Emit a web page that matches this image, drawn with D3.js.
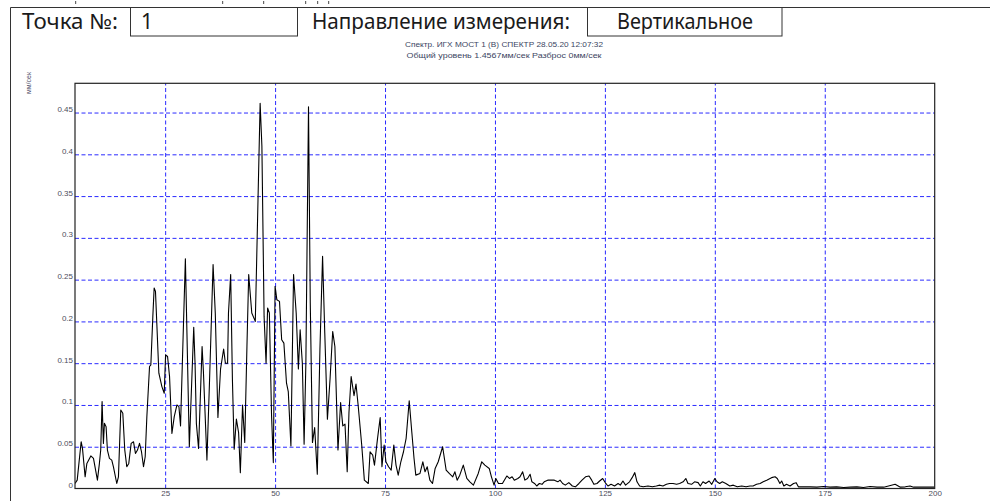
<!DOCTYPE html>
<html>
<head>
<meta charset="utf-8">
<script src="https://cdn.jsdelivr.net/npm/d3@7"></script>
<style>
  body { margin: 0; background: #fff; }
  svg { display: block; }
</style>
</head>
<body>
<div id="main"></div>
<script>
// header fields
var headerLabels = ["Точка №:", "Направление измерения:"];
var headerValues = ["1", "Вертикальное"];
var titleLines = [
  "Спектр. ИГХ МОСТ 1 (В) СПЕКТР 28.05.20 12:07:32",
  "Общий уровень 1.4567мм/сек Разброс 0мм/сек"
];
var unitLabel = "мм/сек";

var xTicks = [25, 50, 75, 100, 125, 150, 175, 200];
var yTicks = [0, 0.05, 0.1, 0.15, 0.2, 0.25, 0.3, 0.35, 0.4, 0.45];

// spectrum (Hz / mm/s)
var freqs = [
  4.5, 5.0, 5.9, 6.2, 6.8, 7.2, 8.1, 8.7, 9.6, 10.05, 10.35, 10.66, 10.96, 11.19, 11.57, 11.87,
  12.33, 12.86, 13.24, 14.0, 14.38, 14.91, 15.37, 15.82, 16.28, 16.73, 17.27, 17.8, 18.25, 18.71,
  19.17, 19.62, 20.08, 20.46, 20.84, 21.45, 21.75, 22.2, 22.5, 22.8, 23.1, 23.57, 24.26, 24.79,
  25.1, 25.55, 26.0, 26.54, 27.07, 27.68, 28.13, 28.5, 29.6, 30.5, 31.5, 31.8, 32.1, 32.6, 33.4,
  33.7, 34.5, 35.1, 35.9, 36.4, 37.0, 37.6, 38.3, 38.7, 39.2, 39.4, 39.9, 40.3, 40.7, 41.2, 41.7,
  42.1, 42.6, 43.1, 43.6, 44.0, 44.7, 45.5, 45.8, 46.6, 47.0, 47.5, 47.95, 48.3, 48.7, 49.2, 49.6,
  50.0, 50.4, 51.0, 51.5, 52.0, 52.6, 53.0, 53.6, 54.2, 54.8, 55.3, 55.7, 56.2, 56.6, 57.0, 57.6,
  58.0, 58.5, 59.0, 59.6, 60.2, 60.8, 61.3, 61.9, 62.5, 63.1, 63.6, 64.3, 64.9, 65.4, 65.9, 66.4,
  66.8, 67.3, 67.95, 68.4, 68.9, 69.7, 70.3, 71.2, 71.6, 72.2, 72.6, 73.3, 73.9, 74.3, 74.8, 75.2,
  75.8, 76.4, 77.0, 77.5, 78.0, 78.6, 79.2, 79.8, 80.5, 81.1, 81.6, 82.0, 82.95, 83.6, 84.1, 84.6,
  85.2, 85.8, 86.4, 87.1, 88.1, 88.9, 89.6, 90.4, 90.9, 91.4, 92.0, 92.8, 93.6, 94.3, 95.1, 96.2,
  97.0, 97.7, 98.7, 99.2, 99.8, 100.2, 100.8, 101.7, 102.7, 103.3, 103.9, 104.4, 105.2, 105.7,
  106.3, 106.8, 107.4, 108.0, 108.4, 109.0, 109.5, 110.1, 110.7, 111.2, 112.0, 112.8, 113.5, 114.3,
  114.8, 115.4, 116.0, 116.8, 117.6, 118.3, 119.1, 119.8, 120.6, 121.4, 122.0, 122.5, 123.2, 123.8,
  124.5, 125.2, 125.7, 126.4, 127.2, 128.0, 128.5, 129.1, 129.7, 130.6, 131.2, 131.8, 132.3, 132.9,
  133.7, 134.8, 135.8, 136.7, 137.5, 138.2, 139.0, 139.7, 140.5, 141.3, 142.0, 142.8, 143.4, 143.9,
  144.7, 145.4, 146.2, 146.7, 147.3, 147.9, 148.7, 149.3, 150.0, 150.5, 151.1, 151.7, 152.5, 153.4,
  154.2, 155.1, 156.1, 157.1, 158.0, 158.7, 159.5, 160.3, 161.0, 161.8, 162.9, 163.7, 164.2, 164.8,
  165.2, 165.7, 166.3, 167.1, 167.9, 168.5, 169.0, 170.1, 171.7, 173.2, 174.7, 176.2, 177.7, 179.3,
  180.8, 182.3, 183.8, 185.3, 186.9, 188.4, 189.5, 191.0, 192.2, 193.3, 194.4, 195.2, 196.7, 198.2,
  200.0
];
var amps = [
  0.006, 0.010, 0.056, 0.048, 0.014, 0.030, 0.039, 0.036, 0.010, 0.030, 0.046, 0.104, 0.054, 0.078, 0.074, 0.046,
  0.036, 0.034, 0.026, 0.006, 0.014, 0.094, 0.090, 0.046, 0.026, 0.030, 0.054, 0.056, 0.042, 0.046,
  0.054, 0.044, 0.026, 0.038, 0.086, 0.146, 0.148, 0.206, 0.240, 0.236, 0.198, 0.138, 0.122, 0.114,
  0.160, 0.158, 0.134, 0.066, 0.086, 0.100, 0.098, 0.075, 0.275, 0.050, 0.193, 0.150, 0.078, 0.048, 0.170,
  0.140, 0.034, 0.130, 0.268, 0.210, 0.085, 0.143, 0.167, 0.150, 0.150, 0.210, 0.256, 0.130, 0.047, 0.083, 0.067,
  0.019, 0.100, 0.055, 0.170, 0.256, 0.210, 0.200, 0.270, 0.461, 0.410, 0.206, 0.150, 0.216, 0.210, 0.087, 0.031,
  0.242, 0.226, 0.224, 0.178, 0.174, 0.126, 0.116, 0.051, 0.256, 0.210, 0.143, 0.190, 0.150, 0.053, 0.150, 0.457,
  0.222, 0.055, 0.073, 0.017, 0.167, 0.278, 0.186, 0.083, 0.131, 0.188, 0.170, 0.046, 0.103, 0.075, 0.077, 0.020,
  0.091, 0.134, 0.111, 0.125, 0.099, 0.052, 0.010, 0.006, 0.044, 0.040, 0.028, 0.060, 0.085, 0.026, 0.052, 0.032,
  0.026, 0.022, 0.052, 0.028, 0.016, 0.032, 0.044, 0.060, 0.105, 0.067, 0.036, 0.016, 0.018, 0.032, 0.020, 0.026,
  0.010, 0.006, 0.024, 0.032, 0.050, 0.022, 0.018, 0.014, 0.020, 0.010, 0.016, 0.028, 0.012, 0.008, 0.004, 0.018,
  0.032, 0.028, 0.024, 0.014, 0.004, 0.012, 0.006, 0.006, 0.015, 0.012, 0.014, 0.010, 0.012, 0.014,
  0.020, 0.010, 0.012, 0.017, 0.008, 0.006, 0.003, 0.006, 0.005, 0.008, 0.010, 0.010, 0.010, 0.008,
  0.010, 0.006, 0.004, 0.007, 0.003, 0.002, 0.006, 0.010, 0.014, 0.015, 0.010, 0.005, 0.006, 0.009,
  0.012, 0.006, 0.003, 0.005, 0.003, 0.006, 0.004, 0.009, 0.004, 0.008, 0.013, 0.019, 0.008, 0.003,
  0.002, 0.003, 0.002, 0.003, 0.004, 0.003, 0.005, 0.006, 0.006, 0.005, 0.006, 0.008, 0.012, 0.006,
  0.005, 0.008, 0.007, 0.003, 0.008, 0.006, 0.009, 0.005, 0.012, 0.008, 0.006, 0.008, 0.006, 0.003,
  0.004, 0.002, 0.003, 0.002, 0.003, 0.003, 0.005, 0.006, 0.008, 0.010, 0.013, 0.014, 0.012, 0.006,
  0.009, 0.003, 0.005, 0.003, 0.006, 0.007, 0.002, 0.002, 0.002, 0.0016, 0.0024, 0.0016, 0.002, 0.0012,
  0.0016, 0.002, 0.0012, 0.0024, 0.0016, 0.0016, 0.003, 0.005, 0.0016, 0.002, 0.003, 0.0016, 0.0016, 0.0016,
  0.0016
];

var W = 990, H = 501;
var svg = d3.select("#main").append("svg")
    .attr("width", W)
    .attr("height", H);

// outer form frame (top + left edges)
svg.append("line").attr("x1", 10.5).attr("x2", W).attr("y1", 7.5).attr("y2", 7.5)
    .attr("stroke", "#333").attr("stroke-width", 1);
svg.append("line").attr("x1", 10.5).attr("x2", 10.5).attr("y1", 7.5).attr("y2", H)
    .attr("stroke", "#333").attr("stroke-width", 1);

// bits of cut-off text at the very top
[75, 222, 263, 305, 317, 328].forEach(function(px) {
  svg.append("rect").attr("x", px).attr("y", 1).attr("width", 1.2).attr("height", 3).attr("fill", "#666");
});

// header labels and value boxes
var hdrFont = "'Noto Sans', 'DejaVu Sans', sans-serif";
svg.append("text").attr("x", 22).attr("y", 28.5).text(headerLabels[0])
    .attr("font-family", hdrFont).attr("font-size", 21).attr("fill", "#1a1a1a")
    .attr("textLength", 96).attr("lengthAdjust", "spacingAndGlyphs");
svg.append("text").attr("x", 312).attr("y", 28.5).text(headerLabels[1])
    .attr("font-family", hdrFont).attr("font-size", 21).attr("fill", "#1a1a1a")
    .attr("textLength", 258).attr("lengthAdjust", "spacingAndGlyphs");

svg.append("rect").attr("x", 130.5).attr("y", 7.5).attr("width", 167).attr("height", 28.5)
    .attr("fill", "none").attr("stroke", "#333");
svg.append("rect").attr("x", 587.5).attr("y", 7.5).attr("width", 194.5).attr("height", 28.5)
    .attr("fill", "none").attr("stroke", "#333");

svg.append("text").attr("x", 141).attr("y", 28.5).text(headerValues[0])
    .attr("font-family", hdrFont).attr("font-size", 21).attr("fill", "#1a1a1a");
svg.append("text").attr("x", 617).attr("y", 28.5).text(headerValues[1])
    .attr("font-family", hdrFont).attr("font-size", 21).attr("fill", "#1a1a1a")
    .attr("textLength", 136).attr("lengthAdjust", "spacingAndGlyphs");

// chart title
var smallFont = "'Liberation Sans', Arial, sans-serif";
svg.selectAll(".title").data(titleLines).enter().append("text")
    .attr("class", "title")
    .attr("x", 504)
    .attr("y", function(d, i) { return 47 + i * 10.5; })
    .attr("text-anchor", "middle")
    .attr("font-family", smallFont).attr("font-size", 7.5)
    .attr("fill", "#3c4663")
    .attr("textLength", function(d, i) { return i === 0 ? 198 : 195; })
    .attr("lengthAdjust", "spacingAndGlyphs")
    .text(function(d) { return d; });

// unit label
svg.append("text")
    .attr("transform", "translate(31,83) rotate(-90)")
    .attr("text-anchor", "middle")
    .attr("font-family", smallFont).attr("font-size", 7)
    .attr("fill", "#4a4a66")
    .text(unitLabel);

// scales
var plotL = 75, plotR = 934.7, plotT = 83.3, plotB = 488.5;
var x = d3.scaleLinear().domain([4.5, 200]).range([plotL, plotR]);
var y = d3.scaleLinear().domain([0, 0.485]).range([plotB, plotT]);

// grid
var grid = svg.append("g");
grid.append("g")
    .attr("transform", "translate(" + plotL + ",0)")
    .call(d3.axisLeft(y).tickValues(yTicks.filter(function(d) { return d > 0; }))
      .tickSize(-(plotR - plotL)).tickFormat(""))
    .call(function(g) { g.select(".domain").remove(); });
grid.append("g")
    .attr("transform", "translate(0," + plotB + ")")
    .call(d3.axisBottom(x).tickValues(xTicks.filter(function(d) { return d < 200; }))
      .tickSize(-(plotB - plotT)).tickFormat(""))
    .call(function(g) { g.select(".domain").remove(); });
grid.selectAll("line")
    .attr("stroke", "#2b2bff")
    .attr("stroke-width", 1)
    .attr("stroke-dasharray", "4,2.5");

// spectrum line
var pts = freqs.map(function(f, i) { return [f, amps[i]]; });
var line = d3.line()
    .x(function(d) { return x(d[0]); })
    .y(function(d) { return y(d[1]); });

svg.append("clipPath").attr("id", "plotClip")
  .append("rect").attr("x", plotL).attr("y", plotT).attr("width", plotR - plotL).attr("height", plotB - plotT);

svg.append("path")
    .datum(pts)
    .attr("clip-path", "url(#plotClip)")
    .attr("d", line)
    .attr("fill", "none")
    .attr("stroke", "#000")
    .attr("stroke-width", 1.1)
    .attr("stroke-linejoin", "round");

// plot frame
svg.append("rect")
    .attr("x", plotL).attr("y", plotT)
    .attr("width", plotR - plotL).attr("height", plotB - plotT)
    .attr("fill", "none").attr("stroke", "#222").attr("stroke-width", 1.2);

// axes labels
var yAxis = svg.append("g")
    .attr("transform", "translate(" + plotL + ",0)")
    .call(d3.axisLeft(y).tickValues(yTicks).tickSize(0).tickPadding(2)
      .tickFormat(function(d) { return String(d); }));
yAxis.select(".domain").remove();
yAxis.selectAll("text").attr("dy", "-1")
    .attr("font-family", smallFont).attr("font-size", 8).attr("fill", "#4d4d5c");

var xAxis = svg.append("g")
    .attr("transform", "translate(0," + plotB + ")")
    .call(d3.axisBottom(x).tickValues(xTicks).tickSize(0).tickPadding(1.5));
xAxis.select(".domain").remove();
xAxis.selectAll("text")
    .attr("font-family", smallFont).attr("font-size", 8).attr("fill", "#4d4d5c");
</script>
</body>
</html>
